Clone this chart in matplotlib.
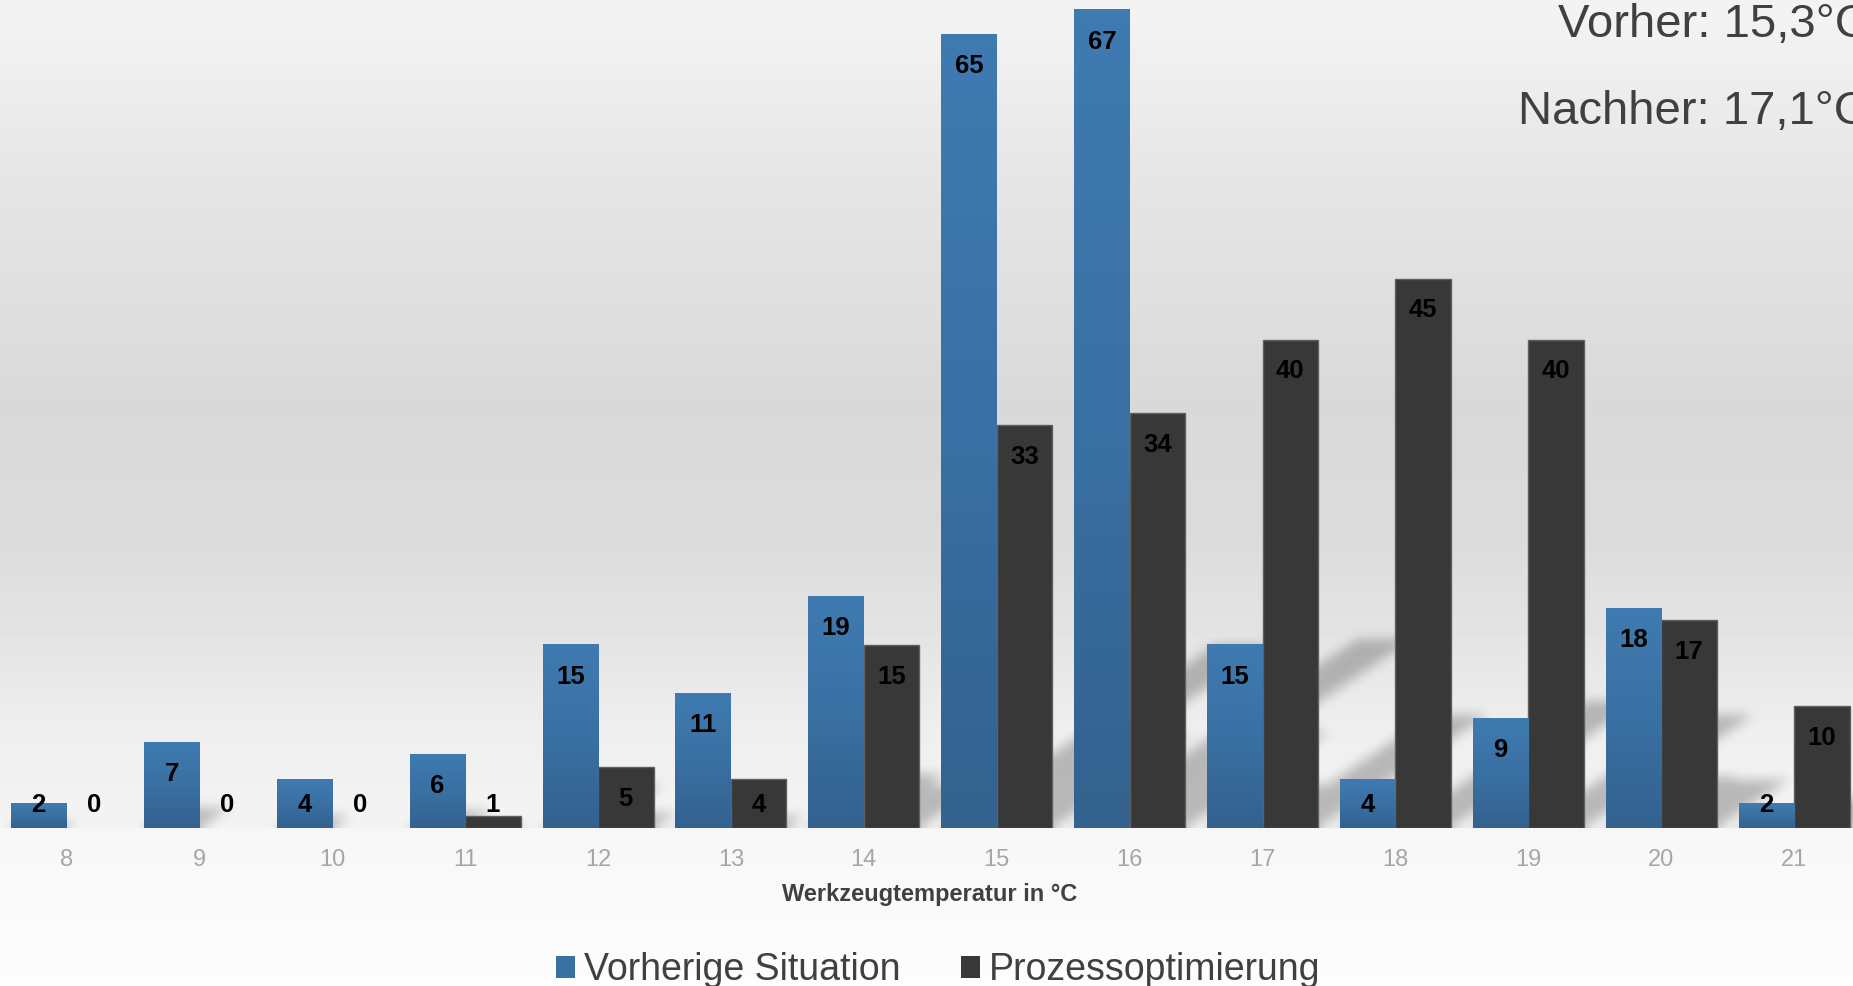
import numpy as np
import matplotlib
matplotlib.use('Agg')
import matplotlib.pyplot as plt
from matplotlib.patches import Patch
from matplotlib.colors import LinearSegmentedColormap

# Werkzeugtemperatur: Haeufigkeit vorher / nachher
temps = [8, 9, 10, 11, 12, 13, 14, 15, 16, 17, 18, 19, 20, 21]
vorher = [2, 7, 4, 6, 15, 11, 19, 65, 67, 15, 4, 9, 18, 2]
nachher = [0, 0, 0, 1, 5, 4, 15, 33, 34, 40, 45, 40, 17, 10]
names = ['Vorherige Situation', 'Prozessoptimierung']
mittel_vorher = '15,3°C'
mittel_nachher = '17,1°C'

plt.rcParams['font.family'] = ['Liberation Sans', 'DejaVu Sans']

W, H = 1853, 986
base_px = 828          # baseline of the plot area, px from top
fig = plt.figure(figsize=(W / 100, H / 100), dpi=100)

# background gradient (whole figure)
bg = fig.add_axes([0, 0, 1, 1], zorder=-10)
bg.set_axis_off()
rows = np.arange(H)
shade = np.interp(rows, [0, 160, 400, 540, 650, 730, base_px - 1, base_px + 1, H],
                  [0.957, 0.905, 0.85, 0.86, 0.9, 0.935, 0.955, 0.968, 0.99])
bg.imshow(np.repeat(shade[:, None], 2, axis=1), cmap='gray', vmin=0, vmax=1,
          aspect='auto', extent=(0, 1, 0, 1), origin='upper')
bg.set_xlim(0, 1)
bg.set_ylim(0, 1)

ax = fig.add_axes([0, (H - base_px) / H, 1, base_px / H])
ax.patch.set_visible(False)

x = np.arange(len(temps))
w = 0.4175
bars_v = ax.bar(x - w / 2, vorher, w, color='#3A70A2', zorder=3)
bars_n = ax.bar(x + w / 2, nachher, w, color='#383838', edgecolor='#606060',
                linewidth=1, zorder=3)
for b in bars_n:
    if b.get_height() <= 0:
        b.set_linewidth(0)

xlim = (-0.5, -0.5 + W / 132.9)
ylim = (0, 67 + 10 / 12.21)

# vertical gradient on the blue bars
blue_cmap = LinearSegmentedColormap.from_list('blau', ['#33628E', '#3A70A3', '#3F7BB1'])
grad = np.linspace(0, 1, 64)[:, None]
for b in bars_v:
    if b.get_height() <= 0:
        continue
    ax.imshow(grad, cmap=blue_cmap, extent=(b.get_x(), b.get_x() + b.get_width(), 0, b.get_height()),
              origin='lower', aspect='auto', zorder=3.5, interpolation='bilinear')

ax.set_xlim(*xlim)
ax.set_ylim(*ylim)

# perspective shadows (blurred, sheared to the upper right)
def box_blur(a, r, axis):
    pad = [(0, 0), (0, 0)]
    pad[axis] = (r + 1, r)
    c = np.cumsum(np.pad(a, pad, mode='edge'), axis=axis)
    n = a.shape[axis]
    hi = np.take(c, np.arange(2 * r + 1, 2 * r + 1 + n), axis=axis)
    lo = np.take(c, np.arange(0, n), axis=axis)
    return (hi - lo) / (2 * r + 1)

A = np.zeros((base_px, W))
rr = np.arange(base_px)[:, None]
cc = np.arange(W)[None, :]
for b in list(bars_v) + list(bars_n):
    h = b.get_height()
    if h <= 0:
        continue
    (px0, py0), (px1, py1) = ax.transData.transform([(b.get_x(), 0), (b.get_x() + b.get_width(), h)])
    hp = py1 - py0
    m = (rr <= 0.23 * hp) & (cc >= px0 + 1.5 * rr) & (cc <= px1 + 1.5 * rr)
    A[m] = 1
for _ in range(3):
    A = box_blur(A, 5, 0)
    A = box_blur(A, 5, 1)
shadow = np.zeros((base_px, W, 4))
shadow[..., 3] = A * 0.24
ax.imshow(shadow, extent=(xlim[0], xlim[1], ylim[0], ylim[1]), origin='lower',
          aspect='auto', zorder=2, interpolation='nearest')
ax.set_xlim(*xlim)
ax.set_ylim(*ylim)

# data labels
for bars, vals in ((bars_v, vorher), (bars_n, nachher)):
    for b, v in zip(bars, vals):
        ax.text(b.get_x() + b.get_width() / 2, max(v - 2.6, 1.9), str(v),
                ha='center', va='center', fontsize=18.5, fontweight='bold',
                color='black', zorder=5)

ax.set_xticks(x)
ax.set_xticklabels([str(t) for t in temps])
ax.tick_params(axis='x', length=0, pad=15, labelsize=17, labelcolor='#A6A6A6')
ax.set_yticks([])
for s in ax.spines.values():
    s.set_visible(False)

ax.set_xlabel('Werkzeugtemperatur in °C', fontsize=17, fontweight='bold', color='#404040')
ax.xaxis.set_label_coords(930 / W, (base_px - 895) / base_px)
ax.xaxis.label.set_va('center')

# Mittelwerte oben rechts (im Original am Rand abgeschnitten)
fig.text(1558 / W, 1 - 37 / H, 'Vorher: ' + mittel_vorher, fontsize=34,
         color='#404040', ha='left', va='baseline')
fig.text(1518 / W, 1 - 124 / H, 'Nachher: ' + mittel_nachher, fontsize=34,
         color='#404040', ha='left', va='baseline')

handles = [Patch(facecolor='#3A70A2', label=names[0]),
           Patch(facecolor='#383838', label=names[1])]
fig.legend(handles=handles, loc='center', bbox_to_anchor=(938 / W, 16 / H), ncol=2,
           frameon=False, fontsize=27, handlelength=0.51, handleheight=0.51,
           handletextpad=0.25, columnspacing=1.6, labelcolor='#404040')

fig.savefig('out.png', dpi=100)
